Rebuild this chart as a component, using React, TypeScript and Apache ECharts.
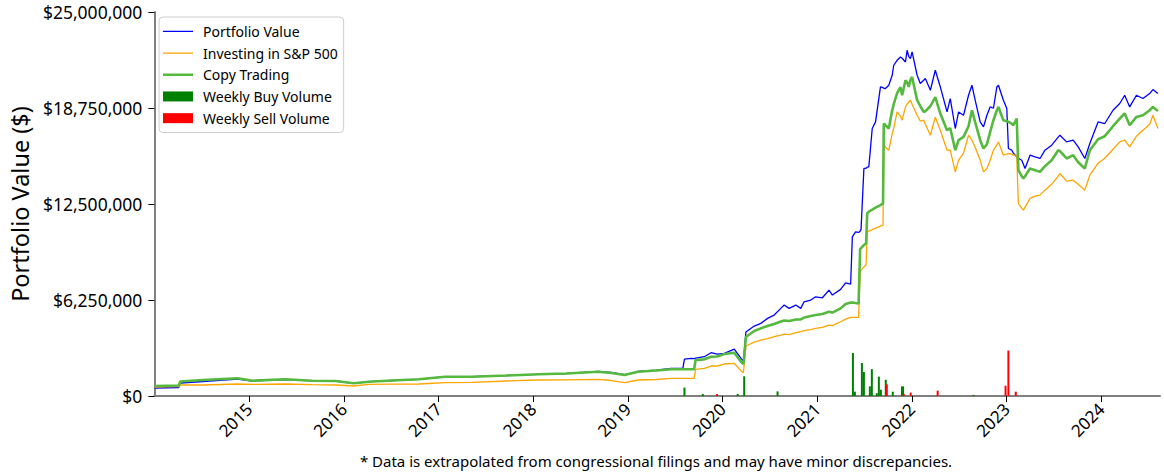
import React, { useEffect, useRef } from "react";
import * as echarts from "echarts";

// Decimal years for each line sample
const lineYears = [
  2014.005, 2014.258, 2014.274, 2014.511, 2014.879, 2015.037, 2015.384, 2015.668, 2015.911, 2016.107,
  2016.265, 2016.511, 2016.792, 2017.072, 2017.353, 2017.721, 2018.055, 2018.353, 2018.686, 2018.826,
  2018.966, 2019.107, 2019.300, 2019.458, 2019.581, 2019.598, 2019.668, 2019.700, 2019.716, 2019.808,
  2019.879, 2019.942, 2020.019, 2020.124, 2020.195, 2020.221, 2020.247, 2020.335, 2020.405, 2020.476,
  2020.545, 2020.616, 2020.651, 2020.703, 2020.774, 2020.826, 2020.861, 2020.932, 2020.984, 2021.055,
  2021.124, 2021.160, 2021.247, 2021.300, 2021.353, 2021.371, 2021.405, 2021.437, 2021.453, 2021.463,
  2021.493, 2021.516, 2021.528, 2021.545, 2021.581, 2021.616, 2021.668, 2021.695, 2021.703, 2021.721,
  2021.756, 2021.792, 2021.808, 2021.844, 2021.879, 2021.897, 2021.932, 2021.949, 2021.966, 2021.984,
  2022.002, 2022.055, 2022.089, 2022.124, 2022.142, 2022.195, 2022.247, 2022.300, 2022.371, 2022.405,
  2022.458, 2022.493, 2022.545, 2022.598, 2022.634, 2022.668, 2022.721, 2022.756, 2022.792, 2022.826,
  2022.861, 2022.897, 2022.914, 2022.966, 2023.002, 2023.019, 2023.055, 2023.072, 2023.107, 2023.124,
  2023.160, 2023.177, 2023.195, 2023.247, 2023.300, 2023.353, 2023.405, 2023.476, 2023.545, 2023.563,
  2023.634, 2023.703, 2023.756, 2023.826, 2023.879, 2023.966, 2024.037, 2024.124, 2024.195, 2024.247,
  2024.300, 2024.371, 2024.440, 2024.511, 2024.545, 2024.598,
];

// Values in millions of dollars
const portfolioValue = [
  0.52, 0.553, 0.846, 0.943, 1.106, 0.976, 1.073, 0.989, 0.976, 0.826,
  0.93, 1.008, 1.086, 1.256, 1.256, 1.334, 1.412, 1.464, 1.607, 1.529,
  1.386, 1.594, 1.691, 1.802, 1.802, 2.407, 2.452, 2.439, 2.472, 2.557,
  2.817, 2.732, 2.778, 3.058, 2.452, 2.277, 4.163, 4.554, 4.729, 5.055,
  5.269, 5.705, 5.92, 5.705, 5.92, 5.705, 6.134, 6.245, 6.46, 6.395,
  6.896, 6.57, 6.941, 7.37, 7.286, 10.363, 10.688, 10.649, 10.733, 10.864,
  14.812, 14.832, 14.897, 14.917, 17.415, 17.844, 20.121, 20.069, 20.036, 20.017,
  20.231, 20.882, 21.533, 21.858, 22.073, 21.988, 21.747, 22.508, 22.118, 21.968,
  22.398, 20.882, 20.342, 20.557, 20.667, 19.906, 21.207, 20.121, 18.494, 19.366,
  17.415, 18.494, 18.28, 19.581, 20.231, 19.256, 17.844, 17.519, 18.28, 18.82,
  18.735, 20.121, 20.231, 19.256, 18.715, 16.114, 16.003, 15.808, 15.567, 15.482,
  15.352, 15.092, 14.812, 15.678, 15.567, 15.463, 16.003, 16.328, 16.849, 16.979,
  16.543, 16.654, 16.218, 15.463, 16.439, 17.844, 17.74, 18.605, 19.041, 19.581,
  18.82, 19.581, 19.366, 19.691, 19.951, 19.691,
];

const sp500Value = [
  0.585, 0.618, 0.716, 0.716, 0.781, 0.761, 0.781, 0.735, 0.716, 0.651,
  0.761, 0.768, 0.781, 0.865, 0.891, 0.976, 1.041, 1.054, 1.086, 1.008,
  0.865, 1.041, 1.073, 1.151, 1.151, 1.151, 1.151, 1.151, 1.737, 1.802,
  1.952, 1.952, 2.082, 2.127, 1.646, 1.516, 3.253, 3.513, 3.643, 3.74,
  3.858, 3.968, 4.033, 4.001, 4.131, 4.183, 4.261, 4.326, 4.404, 4.469,
  4.619, 4.586, 4.834, 5.009, 5.12, 5.12, 5.12, 5.12, 8.066, 8.197,
  8.392, 8.522, 10.688, 10.734, 10.831, 10.929, 11.059, 11.124, 16.439, 16.198,
  16.003, 17.089, 17.434, 18.494, 18.215, 17.955, 18.82, 18.995, 19.126, 19.256,
  18.995, 18.28, 17.89, 17.955, 17.694, 16.979, 18.15, 17.304, 16.003, 16.003,
  14.591, 15.353, 15.808, 16.979, 16.654, 16.198, 15.353, 14.591, 14.812, 15.353,
  16.003, 16.328, 16.543, 15.678, 15.743, 15.788, 15.743, 15.678, 15.678, 12.536,
  12.23, 12.1, 12.295, 12.861, 13.01, 13.076, 13.401, 13.791, 14.311, 14.487,
  13.986, 14.051, 13.791, 13.401, 14.377, 15.157, 15.482, 16.068, 16.543, 16.654,
  16.218, 16.914, 17.304, 17.694, 18.28, 17.415,
];

const copyTradingValue = [
  0.65, 0.683, 0.943, 1.041, 1.151, 0.995, 1.086, 0.995, 0.976, 0.826,
  0.93, 1.008, 1.086, 1.256, 1.256, 1.334, 1.412, 1.464, 1.581, 1.496,
  1.366, 1.581, 1.659, 1.737, 1.737, 1.737, 1.737, 1.737, 2.342, 2.387,
  2.557, 2.57, 2.732, 2.817, 2.231, 2.082, 3.838, 4.228, 4.404, 4.554,
  4.684, 4.846, 4.911, 4.879, 4.977, 4.99, 5.107, 5.204, 5.269, 5.334,
  5.484, 5.432, 5.705, 5.985, 6.082, 6.082, 6.05, 6.03, 9.563, 9.628,
  9.823, 9.934, 11.885, 12.002, 12.132, 12.262, 12.425, 12.536, 17.74, 17.629,
  17.415, 18.605, 18.995, 19.711, 20.101, 19.581, 20.557, 20.427, 20.121, 20.557,
  20.772, 19.256, 18.865, 18.494, 18.54, 18.865, 19.451, 18.39, 17.304, 17.434,
  16.003, 16.654, 16.868, 17.564, 18.605, 17.825, 16.654, 16.114, 16.393, 17.174,
  17.955, 18.605, 18.82, 17.955, 17.89, 17.844, 17.727, 17.629, 18.065, 14.702,
  14.311, 14.162, 14.311, 14.812, 14.702, 14.591, 14.962, 15.353, 16.003, 15.938,
  15.463, 15.678, 15.222, 14.812, 16.003, 16.718, 16.914, 17.564, 18.065, 18.39,
  17.629, 18.169, 18.28, 18.605, 18.82, 18.56,
];

// Weekly trade volumes (millions of dollars)
const buyYears = [
  2019.598, 2019.792, 2020.16, 2020.229, 2020.581, 2021.377, 2021.398, 2021.472, 2021.493, 2021.556,
  2021.577, 2021.629, 2021.651, 2021.672, 2021.724, 2021.798, 2021.895, 2021.907, 2022.651,
];
const buyVolume = [
  0.55, 0.13, 0.13, 1.28, 0.3, 2.8, 0.28, 2.15, 1.56, 0.63,
  1.75, 0.18, 1.26, 0.41, 1.06, 0.28, 0.62, 0.62, 0.07,
];
const sellYears = [2019.942, 2021.735, 2021.914, 2021.987, 2022.272, 2022.989, 2023.019, 2023.097];
const sellVolume = [0.13, 0.76, 0.13, 0.22, 0.35, 0.67, 2.96, 0.28];

const yTicks = [0, 6.25, 12.5, 18.75, 25];
const footnote = "* Data is extrapolated from congressional filings and may have minor discrepancies.";

const FONT = "'Noto Sans', 'DejaVu Sans', sans-serif";

// legend line icons (bounding box kept at 30x10 by tiny corner segments)
const thinLineIcon = "path://M0,0 L0.01,0 M0,4.35 L30,4.35 L30,5.65 L0,5.65 Z M29.99,10 L30,10";
const thickLineIcon = "path://M0,0 L0.01,0 M0,3.8 L30,3.8 L30,6.2 L0,6.2 Z M29.99,10 L30,10";

const pair = (xs: number[], ys: number[]) => xs.map((x, i) => [x, ys[i]]);

export default function App() {
  const ref = useRef<HTMLDivElement>(null);
  useEffect(() => {
    if (!ref.current) return;
    const chart = echarts.init(ref.current, undefined, { renderer: "svg" });
    chart.setOption({
      animation: false,
      backgroundColor: "#ffffff",
      textStyle: { fontFamily: FONT },
      grid: { left: 152, right: 4, top: 12, bottom: 78, containLabel: false },
      legend: {
        orient: "vertical",
        left: 159,
        top: 17,
        itemWidth: 30,
        itemHeight: 10,
        itemGap: 5,
        padding: [6, 6, 6, 4],
        borderColor: "#cccccc",
        borderWidth: 1,
        borderRadius: 4,
        backgroundColor: "#ffffff",
        textStyle: { fontSize: 14, color: "#000", fontFamily: FONT, padding: [0, 0, 0, 5], lineHeight: 16.7 },
        data: [
          { name: "Portfolio Value", icon: thinLineIcon },
          { name: "Investing in S&P 500", icon: thinLineIcon },
          { name: "Copy Trading", icon: thickLineIcon },
          { name: "Weekly Buy Volume", icon: "rect" },
          { name: "Weekly Sell Volume", icon: "rect" },
        ],
      },
      xAxis: {
        type: "value",
        min: 2014,
        max: 2024.62,
        interval: 1,
        splitLine: { show: false },
        axisLine: { show: true, lineStyle: { color: "#808080", width: 2 } },
        axisTick: { show: true, length: 6, lineStyle: { color: "#000", width: 1 } },
        axisLabel: {
          rotate: 45,
          fontSize: 17,
          color: "#000",
          fontFamily: FONT,
          margin: 10,
          showMinLabel: false,
          showMaxLabel: false,
          formatter: (v: number) => String(Math.round(v)),
        },
      },
      yAxis: {
        type: "value",
        min: yTicks[0],
        max: yTicks[yTicks.length - 1],
        interval: yTicks[1] - yTicks[0],
        name: "Portfolio Value ($)",
        nameLocation: "middle",
        nameGap: 122,
        nameTextStyle: { fontSize: 23.5, color: "#000", fontFamily: FONT },
        splitLine: { show: false },
        axisLine: { show: true, lineStyle: { color: "#808080", width: 2 } },
        axisTick: { show: true, length: 6, lineStyle: { color: "#000", width: 1 } },
        axisLabel: {
          fontSize: 17.5,
          color: "#000",
          fontFamily: FONT,
          margin: 12,
          formatter: (v: number) => "$" + Math.round(v * 1e6).toLocaleString("en-US"),
        },
      },
      series: [
        {
          name: "Portfolio Value",
          type: "line",
          data: pair(lineYears, portfolioValue),
          showSymbol: false,
          symbol: "none",
          lineStyle: { color: "#0000ff", width: 1.3 },
          itemStyle: { color: "#0000ff" },
          z: 3,
        },
        {
          name: "Investing in S&P 500",
          type: "line",
          data: pair(lineYears, sp500Value),
          showSymbol: false,
          symbol: "none",
          lineStyle: { color: "#ffa500", width: 1.3 },
          itemStyle: { color: "#ffa500" },
          z: 3,
        },
        {
          name: "Copy Trading",
          type: "line",
          data: pair(lineYears, copyTradingValue),
          showSymbol: false,
          symbol: "none",
          lineStyle: { color: "#56b93f", width: 2.6 },
          itemStyle: { color: "#56b93f" },
          z: 4,
        },
        {
          name: "Weekly Buy Volume",
          type: "bar",
          data: pair(buyYears, buyVolume),
          barWidth: 2,
          barGap: "-100%",
          itemStyle: { color: "#008000" },
          z: 2,
        },
        {
          name: "Weekly Sell Volume",
          type: "bar",
          data: pair(sellYears, sellVolume),
          barWidth: 2,
          barGap: "-100%",
          itemStyle: { color: "#ff0000" },
          z: 2,
        },
      ],
      graphic: [
        {
          type: "text",
          x: 656,
          y: 461,
          style: {
            text: footnote,
            fontSize: 15,
            fontFamily: FONT,
            fill: "#000",
            align: "center",
            verticalAlign: "middle",
          },
        },
      ],
    });
    return () => chart.dispose();
  }, []);
  return (
    <div
      ref={ref}
      style={{ position: "fixed", left: 0, top: 0, width: 1164, height: 474, background: "#fff" }}
    />
  );
}
